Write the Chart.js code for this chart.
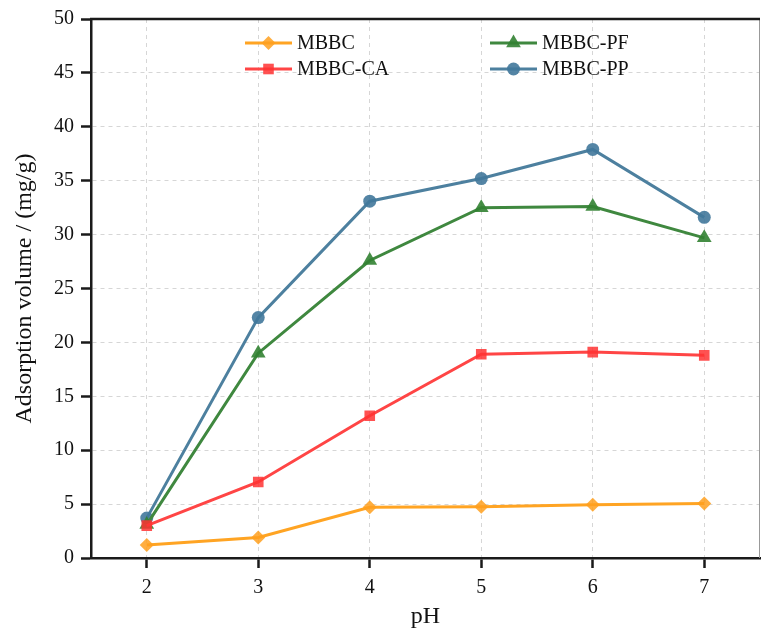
<!DOCTYPE html>
<html>
<head>
<meta charset="utf-8">
<script src="https://cdn.jsdelivr.net/npm/chart.js@4.4.1/dist/chart.umd.min.js"></script>
<style>
  html, body { margin: 0; padding: 0; background: #ffffff; }
  #wrap { width: 761px; height: 632px; position: relative; }
</style>
</head>
<body>
<div id="wrap"><canvas id="mainChart"></canvas></div>
<script>
// pH values on the x axis
const phLabels = ['2', '3', '4', '5', '6', '7'];

// adsorption volume (mg/g) for each sample
const mbbc   = [1.2, 1.9, 4.7, 4.75, 4.95, 5.05];
const mbbcCA = [3.0, 7.05, 13.2, 18.9, 19.1, 18.8];
const mbbcPF = [3.1, 19.0, 27.6, 32.5, 32.6, 29.7];
const mbbcPP = [3.7, 22.3, 33.1, 35.2, 37.9, 31.6];

const seriesNames = ['MBBC', 'MBBC-CA', 'MBBC-PF', 'MBBC-PP'];

const FONT = '"Liberation Serif", "Times New Roman", serif';

function makeSet(label, data, color, fill, style, radius) {
    return {
        label: label,
        data: data,
        borderColor: color,
        backgroundColor: fill,
        borderWidth: 3,
        pointStyle: style,
        pointRadius: radius,
        pointHoverRadius: radius,
        pointBackgroundColor: fill,
        pointBorderWidth: 0,
        tension: 0,
        fill: false
    };
}

// frame (top + right edge)
const framePlugin = {
    id: 'frame',
    afterDraw(chart) {
        const { ctx, chartArea: a } = chart;
        ctx.save();
        ctx.strokeStyle = '#999999';
        ctx.lineWidth = 1;
        ctx.beginPath();
        ctx.moveTo(a.right - 0.5, a.top);
        ctx.lineTo(a.right - 0.5, a.bottom);
        ctx.stroke();
        ctx.strokeStyle = '#1a1a1a';
        ctx.lineWidth = 2.5;
        ctx.beginPath();
        ctx.moveTo(a.left - 1, a.top);
        ctx.lineTo(a.right, a.top);
        ctx.stroke();
        ctx.restore();
    }
};

// legend drawn inside the plot, two columns
const legendPlugin = {
    id: 'plotLegend',
    afterDraw(chart) {
        const ctx = chart.ctx;
        const spots = [[245, 43], [245, 69], [490, 43], [490, 69]];
        chart.data.datasets.forEach((ds, i) => {
            const [x, y] = spots[i];
            ctx.save();
            ctx.strokeStyle = ds.borderColor;
            ctx.lineWidth = 3;
            ctx.beginPath();
            ctx.moveTo(x, y);
            ctx.lineTo(x + 47, y);
            ctx.stroke();
            ctx.fillStyle = ds.pointBackgroundColor;
            Chart.helpers.drawPoint(ctx, {
                pointStyle: ds.pointStyle,
                radius: ds.pointRadius,
                rotation: 0,
                borderWidth: 0
            }, x + 23.5, y);
            ctx.fillStyle = '#111111';
            ctx.font = '20px ' + FONT;
            ctx.textBaseline = 'middle';
            ctx.fillText(ds.label, x + 52, y + 1);
            ctx.restore();
        });
    }
};

const ctx = document.getElementById('mainChart').getContext('2d');
const chart = new Chart(ctx, {
    type: 'line',
    data: {
        labels: phLabels,
        datasets: [
            makeSet(seriesNames[0], mbbc, '#FFA423', 'rgba(255,160,30,0.85)', 'rectRot', 7),
            makeSet(seriesNames[1], mbbcCA, '#FF4545', 'rgba(255,50,50,0.85)', 'rect', 7.5),
            makeSet(seriesNames[2], mbbcPF, '#3F883F', 'rgba(50,130,50,0.9)', 'triangle', 8.5),
            makeSet(seriesNames[3], mbbcPP, '#4D809F', 'rgba(65,120,155,0.9)', 'circle', 6.5)
        ]
    },
    options: {
        responsive: true,
        maintainAspectRatio: false,
        animation: false,
        layout: { autoPadding: false, padding: { top: 18, right: 1, left: 0, bottom: 0 } },
        plugins: {
            legend: { display: false },
            tooltip: { enabled: false }
        },
        scales: {
            x: {
                type: 'category',
                offset: true,
                grid: {
                    color: '#d6d6d6',
                    lineWidth: 1,
                    tickLength: 10,
                    tickColor: '#1a1a1a',
                    tickWidth: 2.5,
                    tickBorderDash: [],
                    offset: false
                },
                border: { display: true, color: '#1a1a1a', width: 2.5, dash: [4, 4] },
                ticks: {
                    color: '#111111',
                    font: { family: FONT, size: 20 },
                    padding: 8,
                    maxRotation: 0
                },
                title: {
                    display: true,
                    text: 'pH',
                    color: '#111111',
                    font: { family: FONT, size: 24 },
                    padding: { top: 0, bottom: 1 }
                },
                afterFit(scale) {
                    scale.height = 74;
                    scale.paddingLeft = 0;
                    scale.paddingRight = 0;
                }
            },
            y: {
                min: 0,
                max: 50,
                ticks: {
                    stepSize: 5,
                    color: '#111111',
                    font: { family: FONT, size: 20 },
                    padding: 7
                },
                grid: {
                    color: '#d6d6d6',
                    lineWidth: 1,
                    tickLength: 10,
                    tickColor: '#1a1a1a',
                    tickWidth: 2.5,
                    tickBorderDash: []
                },
                border: { display: true, color: '#1a1a1a', width: 2.5, dash: [4, 4] },
                title: {
                    display: true,
                    text: 'Adsorption volume / (mg/g)',
                    color: '#111111',
                    font: { family: FONT, size: 24 },
                    padding: { top: 10, bottom: 0 }
                },
                afterFit(scale) { scale.width = 91; }
            }
        }
    },
    plugins: [framePlugin, legendPlugin]
});
</script>
</body>
</html>
